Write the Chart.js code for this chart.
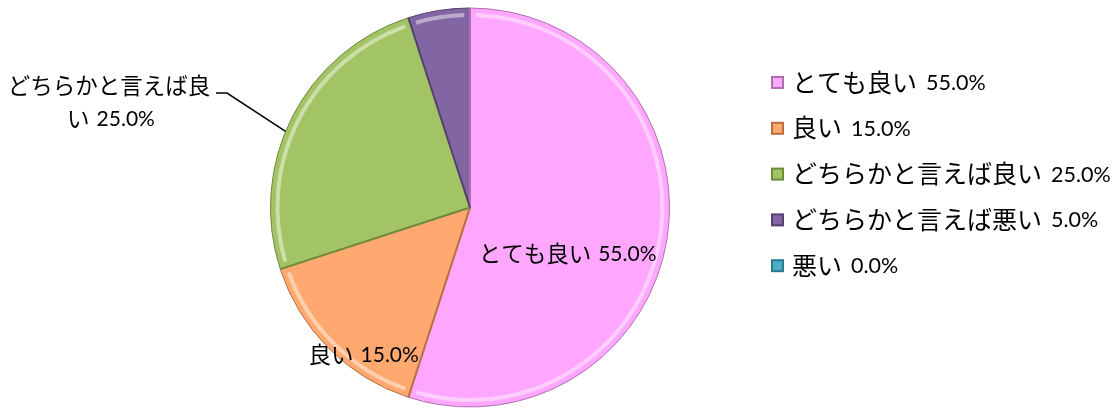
<!DOCTYPE html>
<html>
<head>
<meta charset="utf-8">
<script src="https://cdn.jsdelivr.net/npm/chart.js@4.4.1/dist/chart.umd.min.js"></script>
<style>
  html, body { margin: 0; padding: 0; background: #fff; }
  #wrap { width: 1118px; height: 408px; position: relative; }
</style>
</head>
<body>
<div id="wrap"><canvas id="pieChart" width="1118" height="408"></canvas></div>
<script>
// chart data
const categories = ['とても良い', '良い', 'どちらかと言えば良い', 'どちらかと言えば悪い', '悪い'];
const percents   = [55.0, 15.0, 25.0, 5.0, 0.0];
const sliceColors = ['#FFA6FF', '#FFA870', '#A3C465', '#8266A4', '#4BACC6'];
const edgeColors  = ['#B070B0', '#B8703F', '#6E8A3C', '#55406E', '#2E7A8E'];

const LABEL_FONTS  = { jp: '22.5px "Noto Sans CJK JP", sans-serif', num: '21px "Lato", sans-serif', gap: 7 };
const LEGEND_FONTS = { jp: '25px "Noto Sans CJK JP", sans-serif', num: '21.5px "Lato", sans-serif', gap: 9 };

function pctText(v) {
    return v.toFixed(1) + '%';
}

// japanese part and number part use different faces (like Meiryo + Calibri)
function drawMixed(ctx, f, jp, num, x, y, align) {
    ctx.font = f.jp;
    const wj = ctx.measureText(jp).width;
    ctx.font = f.num;
    const wn = num ? f.gap + ctx.measureText(num).width : 0;
    let left = x;
    if (align === 'center') left = x - (wj + wn) / 2;
    ctx.textAlign = 'left';
    ctx.font = f.jp;
    ctx.fillText(jp, left, y);
    if (num) {
        ctx.font = f.num;
        ctx.fillText(num, left + wj + f.gap, y + 1);
    }
}

// labels on / beside the slices
const sliceLabels = {
    id: 'sliceLabels',
    afterDatasetsDraw(chart) {
        const ctx = chart.ctx;
        const arcs = chart.getDatasetMeta(0).data;
        ctx.save();
        ctx.fillStyle = '#000';
        ctx.textBaseline = 'middle';

        // とても良い : inside, a bit below the middle angle
        let a = arcs[0];
        let mid = (a.startAngle + a.endAngle) / 2 + 0.28;
        let r = a.outerRadius * 0.54;
        drawMixed(ctx, LABEL_FONTS, categories[0], pctText(percents[0]), a.x + Math.cos(mid) * r, a.y + Math.sin(mid) * r, 'center');

        // 良い : near the rim
        a = arcs[1];
        mid = (a.startAngle + a.endAngle) / 2 - 0.16;
        r = a.outerRadius * 0.91;
        drawMixed(ctx, LABEL_FONTS, categories[1], pctText(percents[1]), a.x + Math.cos(mid) * r, a.y + Math.sin(mid) * r, 'center');

        // どちらかと言えば良い : outside with leader line
        a = arcs[2];
        mid = (a.startAngle + a.endAngle) / 2 - 0.08;
        const ex = a.x + Math.cos(mid) * a.outerRadius;
        const ey = a.y + Math.sin(mid) * a.outerRadius;
        ctx.strokeStyle = '#000';
        ctx.lineWidth = 1.5;
        ctx.beginPath();
        ctx.moveTo(ex, ey);
        ctx.lineTo(227, 93);
        ctx.lineTo(216, 93);
        ctx.stroke();
        const txt = categories[2];
        drawMixed(ctx, LABEL_FONTS, txt.slice(0, 9), '', 109, 85, 'center');
        drawMixed(ctx, LABEL_FONTS, txt.slice(9), pctText(percents[2]), 111, 118, 'center');
        ctx.restore();
    }
};

// bevel-like rim on each slice
const bevel = {
    id: 'bevel',
    afterDatasetsDraw(chart) {
        const ctx = chart.ctx;
        const arcs = chart.getDatasetMeta(0).data;
        ctx.save();
        arcs.forEach((a, i) => {
            if (a.endAngle - a.startAngle < 0.001) return;
            ctx.strokeStyle = 'rgba(255,255,255,0.45)';
            ctx.lineWidth = 4;
            ctx.beginPath();
            ctx.arc(a.x, a.y, a.outerRadius - 7, a.startAngle + 0.03, a.endAngle - 0.03);
            ctx.stroke();
            ctx.strokeStyle = edgeColors[i];
            ctx.lineWidth = 2;
            ctx.beginPath();
            ctx.moveTo(a.x, a.y);
            ctx.lineTo(a.x + Math.cos(a.startAngle) * a.outerRadius, a.y + Math.sin(a.startAngle) * a.outerRadius);
            ctx.stroke();
        });
        ctx.restore();
    }
};

// legend on the right
const sideLegend = {
    id: 'sideLegend',
    afterDraw(chart) {
        const ctx = chart.ctx;
        ctx.save();
        ctx.textBaseline = 'middle';
        categories.forEach((name, i) => {
            const y = 82 + i * 45.8;
            const x = 771;
            ctx.fillStyle = edgeColors[i];
            ctx.fillRect(x, y - 6, 13, 13);
            ctx.fillStyle = sliceColors[i];
            ctx.fillRect(x + 2, y - 4, 9, 9);
            ctx.fillStyle = '#000';
            drawMixed(ctx, LEGEND_FONTS, name, pctText(percents[i]), 792, y, 'left');
        });
        ctx.restore();
    }
};

const ctx = document.getElementById('pieChart').getContext('2d');
const pieChart = new Chart(ctx, {
    type: 'pie',
    data: {
        labels: categories,
        datasets: [{
            data: percents,
            backgroundColor: sliceColors,
            borderColor: edgeColors,
            borderWidth: 1
        }]
    },
    options: {
        responsive: false,
        animation: false,
        layout: {
            padding: { left: 270, right: 448, top: 7, bottom: 0 }
        },
        plugins: {
            legend: { display: false },
            tooltip: { enabled: false }
        }
    },
    plugins: [bevel, sliceLabels, sideLegend]
});
</script>
</body>
</html>
